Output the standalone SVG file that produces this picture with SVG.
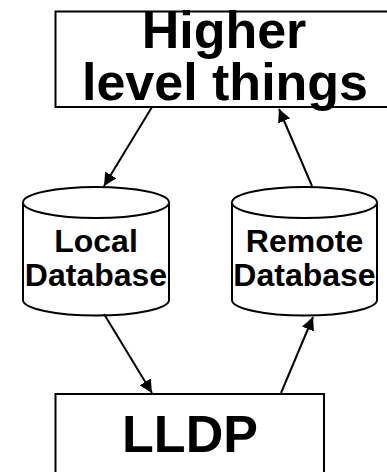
<svg xmlns="http://www.w3.org/2000/svg" width="387" height="472" viewBox="0 0 387 472">
<defs>
<style>
.box{fill:#fff;stroke:#000;stroke-width:2}
.cyl{fill:#fff;stroke:#000;stroke-width:2}
.t{font-family:"Liberation Sans",Arial,sans-serif;font-weight:bold;fill:#000;text-anchor:middle}
.big{font-size:52px}
.small{font-size:32px}
.conn{stroke:#000;stroke-width:2;fill:none;marker-end:url(#ah)}
</style>
<marker id="ah" viewBox="0 0 10 10" refX="10" refY="5" markerWidth="6.5" markerHeight="6.5" orient="auto" markerUnits="strokeWidth">
<path d="M0,0 L10,5 L0,10 z" fill="#000"/>
</marker>
</defs>
<rect width="387" height="472" fill="#fff"/>
<g id="higher">
<rect class="box" x="55.5" y="11.5" width="340" height="95.5"/>
<text class="t big" x="224" y="48">Higher</text>
<text class="t big" x="225" y="100">level things</text>
</g>
<g id="local-db">
<path class="cyl" d="M23,202.5 V300 A73,15.5 0 0 0 169,300 V202.5 A73,15.5 0 0 0 23,202.5 Z"/>
<path class="cyl" fill="none" d="M23,202.5 A73,15.5 0 0 0 169,202.5"/>
<text class="t small" x="96" y="251.7">Local</text>
<text class="t small" x="96" y="286">Database</text>
</g>
<g id="remote-db">
<path class="cyl" d="M232,202.5 V300 A72.5,15.5 0 0 0 377,300 V202.5 A72.5,15.5 0 0 0 232,202.5 Z"/>
<path class="cyl" fill="none" d="M232,202.5 A72.5,15.5 0 0 0 377,202.5"/>
<text class="t small" x="304.5" y="251.7">Remote</text>
<text class="t small" x="304.5" y="286">Database</text>
</g>
<g id="lldp">
<rect class="box" x="55.5" y="394" width="268.5" height="100"/>
<text class="t big" x="190" y="452">LLDP</text>
</g>
<g id="connectors">
<line class="conn" x1="152" y1="107" x2="104" y2="186"/>
<line class="conn" x1="312" y1="186" x2="279" y2="109"/>
<line class="conn" x1="104" y1="314" x2="152" y2="393"/>
<line class="conn" x1="281" y1="393" x2="313" y2="317"/>
</g>
</svg>
